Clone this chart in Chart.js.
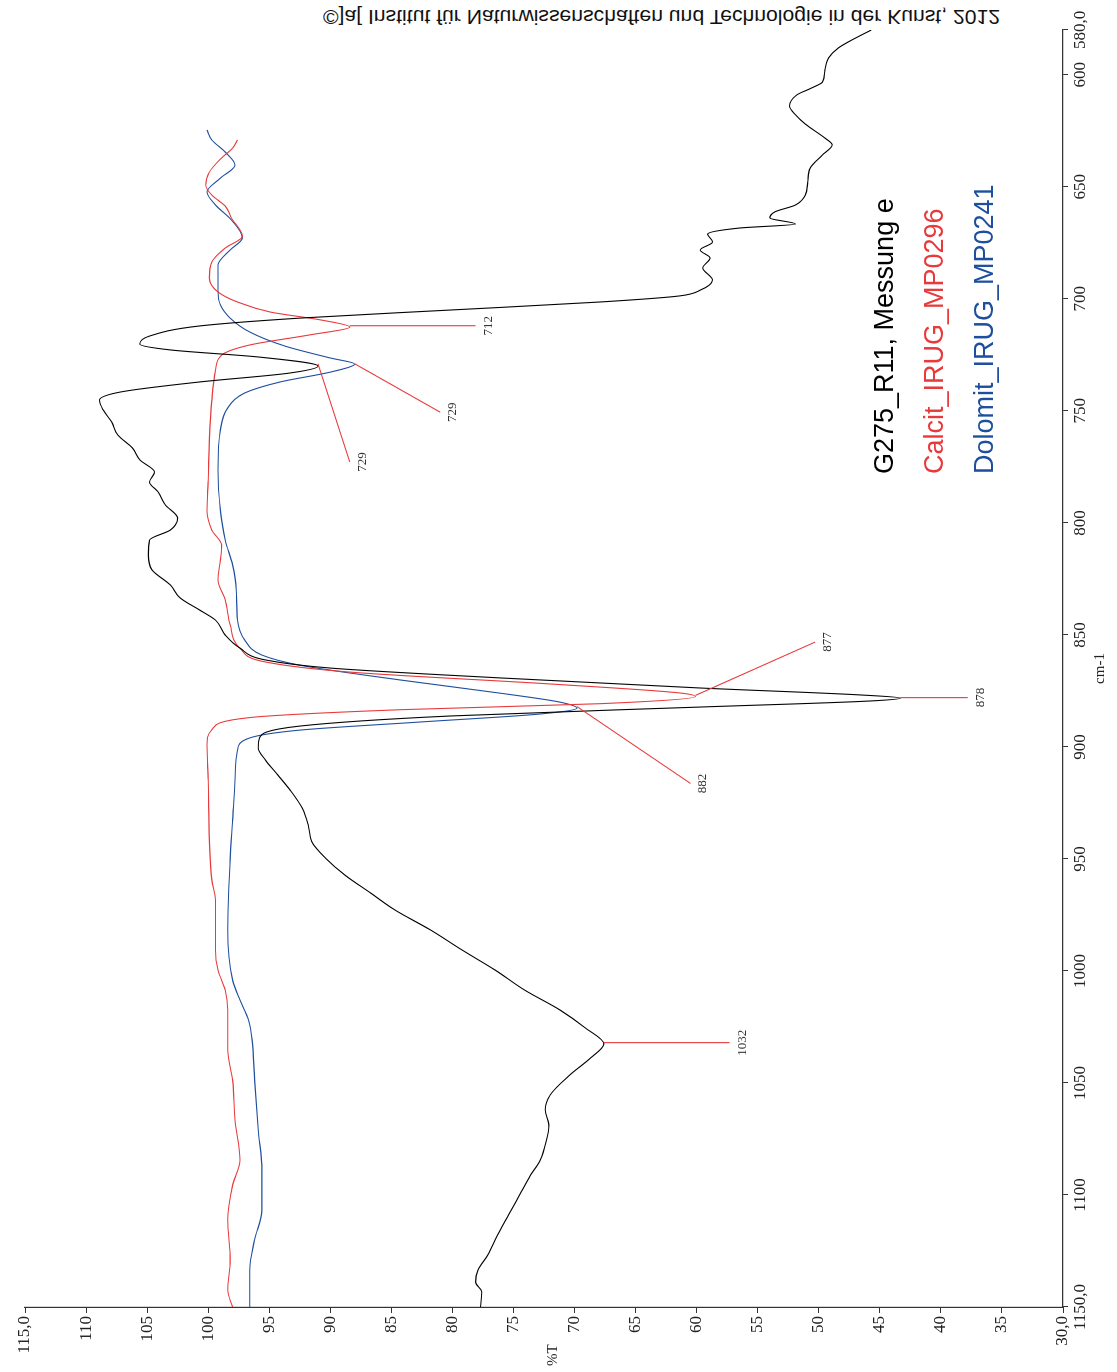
<!DOCTYPE html>
<html>
<head>
<meta charset="utf-8">
<script src="https://cdn.jsdelivr.net/npm/chart.js@4.4.0/dist/chart.umd.min.js"></script>
<style>
  html, body { margin: 0; padding: 0; background: #fff; width: 1117px; height: 1372px; overflow: hidden; }
  #wrap { position: absolute; left: 0; top: 1372px; width: 1372px; height: 1117px; transform-origin: 0 0; transform: rotate(-90deg); }
  #copy { position: absolute; left: 323px; top: 5px; font: 21px "Liberation Sans", Arial, sans-serif; color: #111; white-space: nowrap; transform-origin: 0 50%; }
</style>
</head>
<body>
<div id="copy">©]a[ Institut für Naturwissenschaften und Technologie in der Kunst, 2012</div>
<div id="wrap"><canvas id="spec" width="1372" height="1117"></canvas></div>
<script>
// wavenumber (cm-1) / transmission (%T) pairs
const sampleWn = [580.0, 583.6, 588.0, 592.5, 597.9, 603.2, 605.9, 609.0, 613.9, 617.9, 622.0, 628.2, 631.3, 635.8, 641.6, 647.8, 653.7, 658.1, 661.2, 663.9, 666.6, 668.4, 671.1, 674.6, 678.2, 681.8, 686.2, 691.6, 696.1, 698.7, 701.4, 705.0, 708.6, 712.1, 716.6, 720.2, 722.8, 726.0, 730.0, 733.1, 737.1, 741.6, 745.2, 749.6, 755.0, 760.8, 766.6, 771.9, 777.3, 781.8, 786.2, 792.0, 797.8, 803.2, 807.7, 814.3, 821.0, 827.7, 833.5, 838.9, 843.4, 850.1, 855.9, 861.2, 864.8, 869.2, 873.7, 876.8, 878.2, 879.5, 882.2, 886.2, 890.7, 896.0, 900.5, 905.9, 912.5, 919.2, 927.3, 934.9, 942.5, 949.6, 957.2, 965.2, 972.8, 981.7, 990.7, 999.6, 1008.5, 1017.4, 1025.5, 1032.6, 1038.9, 1046.5, 1055.4, 1062.1, 1068.8, 1075.5, 1084.4, 1091.1, 1100.0, 1108.9, 1117.9, 1126.8, 1133.5, 1138.9, 1143.3, 1150.0];
const sampleT = [45.7, 47.0, 48.4, 49.2, 49.5, 49.7, 50.6, 51.8, 52.4, 51.9, 51.1, 49.5, 48.9, 49.7, 50.7, 50.9, 51.1, 51.9, 53.6, 54.0, 51.9, 56.5, 59.1, 58.7, 59.7, 58.9, 59.5, 58.7, 59.7, 61.4, 67.9, 80.2, 92.5, 100.7, 104.8, 105.6, 103.1, 95.8, 91.0, 93.3, 100.7, 107.2, 108.9, 108.6, 107.9, 107.4, 106.2, 105.6, 104.4, 104.8, 104.1, 103.5, 102.5, 103.1, 104.8, 104.9, 104.6, 103.1, 102.3, 100.7, 99.4, 98.6, 97.4, 95.3, 90.0, 76.1, 59.7, 46.6, 43.3, 45.8, 59.7, 80.2, 92.5, 95.8, 95.9, 95.3, 94.3, 93.3, 92.3, 91.8, 91.5, 90.4, 88.8, 86.7, 84.7, 81.8, 79.2, 76.5, 74.1, 71.2, 69.1, 67.6, 68.7, 70.4, 72.0, 72.4, 72.1, 72.3, 72.8, 73.6, 74.5, 75.4, 76.3, 77.1, 77.9, 78.1, 77.6, 77.7];

const calcitWn = [629.1, 632.7, 637.1, 643.4, 649.2, 653.7, 658.6, 663.9, 672.0, 677.3, 683.6, 690.7, 696.9, 701.4, 705.9, 709.4, 712.6, 716.1, 720.6, 725.1, 731.8, 745.2, 763.0, 780.9, 794.3, 803.2, 809.9, 816.6, 825.5, 834.4, 845.6, 855.9, 862.1, 866.6, 871.9, 875.9, 877.5, 880.7, 883.4, 886.9, 892.3, 899.2, 914.8, 941.6, 959.4, 968.3, 990.7, 999.6, 1008.5, 1017.4, 1035.3, 1048.7, 1066.5, 1084.4, 1095.6, 1111.2, 1129.0, 1142.4, 1150.0];
const calcitT = [97.6, 98.0, 98.9, 99.9, 100.2, 99.7, 98.6, 98.1, 97.2, 98.6, 99.7, 99.9, 99.2, 97.6, 94.9, 90.8, 88.4, 91.7, 96.6, 98.9, 99.4, 99.7, 99.9, 100.0, 100.1, 99.7, 98.9, 99.0, 99.2, 98.6, 98.2, 97.4, 95.3, 88.4, 72.0, 61.4, 60.1, 67.9, 84.3, 96.6, 99.7, 100.1, 100.0, 99.9, 99.7, 99.4, 99.4, 99.2, 98.6, 98.4, 98.4, 98.0, 97.8, 97.4, 98.0, 98.4, 98.2, 98.4, 98.0];

const dolomitWn = [624.6, 629.1, 634.5, 640.3, 646.1, 652.3, 658.1, 664.8, 672.8, 678.2, 684.9, 696.1, 702.8, 708.6, 714.8, 721.1, 726.4, 729.1, 732.7, 737.1, 742.0, 748.7, 758.5, 776.4, 794.3, 807.7, 818.8, 830.0, 843.4, 852.3, 859.0, 863.5, 870.1, 876.0, 880.0, 882.7, 885.3, 888.9, 892.5, 896.0, 901.4, 914.8, 932.6, 950.5, 981.7, 1004.1, 1013.0, 1021.9, 1030.8, 1048.7, 1071.0, 1088.9, 1106.7, 1120.1, 1133.5, 1150.0];
const dolomitT = [100.1, 99.7, 98.6, 97.8, 99.0, 100.1, 99.4, 98.1, 97.2, 98.2, 99.2, 99.2, 99.0, 98.2, 96.6, 93.7, 90.0, 88.0, 90.0, 94.1, 97.0, 98.4, 99.0, 99.2, 99.0, 98.6, 98.0, 97.7, 97.6, 97.0, 95.6, 92.5, 84.3, 76.1, 71.2, 69.8, 72.8, 82.7, 92.5, 96.6, 97.6, 97.8, 98.0, 98.2, 98.4, 98.0, 97.4, 96.7, 96.4, 96.2, 95.9, 95.6, 95.6, 96.2, 96.6, 96.6];

const wnTicks = [580, 600, 650, 700, 750, 800, 850, 900, 950, 1000, 1050, 1100, 1150];
const tTicks = [30, 35, 40, 45, 50, 55, 60, 65, 70, 75, 80, 85, 90, 95, 100, 105, 110, 115];

const seriesNames = ["G275_R11, Messung e", "Calcit_IRUG_MP0296", "Dolomit_IRUG_MP0241"];
const seriesColors = ["#000000", "#e8393b", "#1d4f9e"];

// peak labels: band position, depth of the band, where the leader ends
const peakWn   = [1032, 878, 877, 882, 712, 729, 729];
const peakT    = [67.6, 43.3, 60.1, 69.8, 88.4, 88.0, 91.0];
const leaderWn = [1032, 878, 853.2, 916.3, 712, 750.6, 772.8];
const leaderT  = [57.3, 37.8, 50.3, 60.5, 78.1, 81.0, 88.4];

function pairs(xs, ys) {
  return xs.map((x, i) => ({ x: x, y: ys[i] }));
}

const textPlugin = {
  id: "spectrumText",
  afterDraw(chart) {
    const ctx = chart.ctx;
    const xs = chart.scales.x, ys = chart.scales.y;
    ctx.save();

    // leader lines from the bands to their labels
    ctx.strokeStyle = "#e8393b";
    ctx.lineWidth = 1.1;
    ctx.fillStyle = "#333";
    ctx.font = '13px "Liberation Serif", serif';
    ctx.textAlign = "center";
    ctx.textBaseline = "top";
    peakWn.forEach((wn, i) => {
      const x0 = xs.getPixelForValue(wn), y0 = ys.getPixelForValue(peakT[i]);
      const x1 = xs.getPixelForValue(leaderWn[i]), y1 = ys.getPixelForValue(leaderT[i]);
      ctx.beginPath();
      ctx.moveTo(x0, y0);
      ctx.lineTo(x1, y1);
      ctx.stroke();
      ctx.fillText(String(wn), x1, y1 + 6);
    });

    // legend block
    ctx.textAlign = "left";
    ctx.textBaseline = "alphabetic";
    ctx.font = '27px "Liberation Sans", Arial, sans-serif';
    seriesNames.forEach((name, i) => {
      ctx.fillStyle = seriesColors[i];
      ctx.fillText(name, 898, 893 + i * 50);
    });

    // axis titles
    ctx.fillStyle = "#222";
    ctx.font = '15px "Liberation Serif", serif';
    ctx.textAlign = "center";
    ctx.textBaseline = "top";
    ctx.fillText("cm-1", (chart.chartArea.left + chart.chartArea.right) / 2, 1093);
    ctx.textAlign = "left";
    ctx.textBaseline = "middle";
    ctx.fillText("%T", 6, 553);
    ctx.restore();
  }
};

new Chart(document.getElementById("spec").getContext("2d"), {
  type: "line",
  data: {
    datasets: [
      { label: seriesNames[0], data: pairs(sampleWn, sampleT), borderColor: seriesColors[0] },
      { label: seriesNames[1], data: pairs(calcitWn, calcitT), borderColor: seriesColors[1] },
      { label: seriesNames[2], data: pairs(dolomitWn, dolomitT), borderColor: seriesColors[2] }
    ]
  },
  options: {
    responsive: false,
    devicePixelRatio: 1,
    animation: false,
    layout: { padding: { left: 0, right: 30, top: 25, bottom: 0 } },
    elements: {
      line: { borderWidth: 1.1, cubicInterpolationMode: "monotone", fill: false },
      point: { radius: 0 }
    },
    plugins: { legend: { display: false }, tooltip: { enabled: false } },
    scales: {
      x: {
        type: "linear",
        min: 580,
        max: 1150,
        reverse: true,
        afterBuildTicks: s => { s.ticks = wnTicks.map(v => ({ value: v })); },
        afterFit: s => { s.height = 54; },
        ticks: {
          autoSkip: false,
          maxRotation: 0,
          padding: 2,
          color: "#222",
          font: { family: "Liberation Serif", size: 17 },
          callback: v => (v === 580 || v === 1150) ? v + ",0" : String(v)
        },
        grid: { drawOnChartArea: false, drawTicks: true, tickLength: 5, color: "#333" },
        border: { color: "#333", width: 1.2 }
      },
      y: {
        min: 30,
        max: 115,
        afterBuildTicks: s => { s.ticks = tTicks.map(v => ({ value: v })); },
        afterFit: s => { s.width = 65; },
        ticks: {
          autoSkip: false,
          padding: 3,
          color: "#222",
          font: { family: "Liberation Serif", size: 17 },
          callback: v => (v === 30 || v === 115) ? v + ",0" : String(v)
        },
        grid: { drawOnChartArea: false, drawTicks: true, tickLength: 6, color: "#333" },
        border: { color: "#333", width: 1.2 }
      }
    }
  },
  plugins: [textPlugin]
});

// fit the copyright line to its width, mirrored top-to-bottom
const copy = document.getElementById("copy");
const k = 677 / copy.getBoundingClientRect().width;
copy.style.transform = "scale(" + k.toFixed(3) + ", -1)";
</script>
</body>
</html>
